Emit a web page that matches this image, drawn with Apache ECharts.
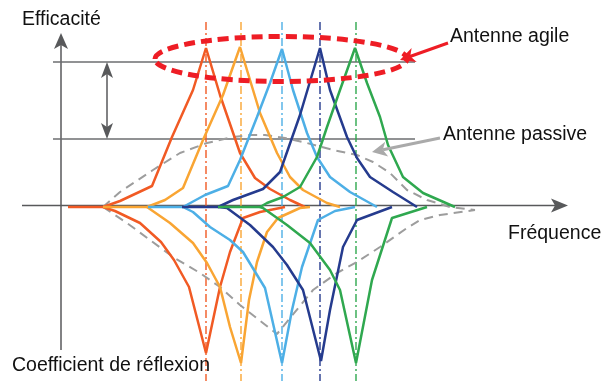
<!DOCTYPE html>
<html>
<head>
<meta charset="utf-8">
<title>Antenne agile / passive</title>
<script src="https://cdn.jsdelivr.net/npm/echarts@6/dist/echarts.min.js"></script>
<style>
    html, body { margin: 0; padding: 0; background: #fff; }
    #antenna_chart { width: 601px; height: 381px; }
</style>
</head>
<body>
<div id="antenna_chart"></div>
<script>

// Data: [frequency, level], level 0 = frequency axis
// ------------------------------

var redEff = [[68,0],[103,0],[120,6],[152,21],[172,70],[193,117],[206,159],[220,112],[240,54],[255,29],[270,18],[290,7],[305,0]];
var redRefl = [[103,0],[115,-4],[140,-16],[161,-35],[174,-53],[189,-80],[206,-146],[220,-80],[230,-45],[243,-11],[260,-5],[285,0]];

var orangeEff = [[103,0],[147,0],[165,7],[183,19],[203,67],[223,112],[240,160],[260,94],[277,54],[290,30],[303,17],[327,4],[340,0]];
var orangeRefl = [[147,0],[170,-16],[193,-36],[207,-56],[220,-80],[230,-120],[241,-156],[249,-93],[257,-55],[267,-25],[278,-11],[300,-1],[310,0]];

var blueEff = [[148,0],[183,0],[205,12],[228,21],[240,47],[257,90],[270,124],[282,158],[293,117],[307,74],[317,50],[330,30],[350,15],[377,0]];
var blueRefl = [[183,0],[193,-5],[210,-20],[230,-33],[243,-45],[265,-81],[282,-156],[292,-103],[302,-60],[318,-13],[335,-4],[355,0]];

var navyEff = [[182,0],[218,0],[233,7],[263,18],[280,35],[300,92],[320,159],[330,117],[347,70],[357,49],[370,30],[393,15],[417,0]];
var navyRefl = [[218,0],[227,-1],[250,-18],[273,-40],[287,-58],[303,-83],[321,-154],[330,-103],[343,-40],[357,-13],[392,0]];

var greenEff = [[218,0],[260,0],[267,4],[283,10],[300,20],[317,50],[327,80],[340,117],[355,159],[367,124],[380,90],[388,62],[403,30],[423,14],[455,0]];
var greenRefl = [[260,0],[263,-1],[287,-18],[310,-36],[330,-63],[340,-83],[356,-156],[372,-73],[392,-11],[427,0]];

var passiveEff = [[103,0],[120,15],[153,37],[180,54],[207,64],[233,70],[250,72],[265,72],[285,69],[307,64],[333,57],[357,52],[373,45],[390,34],[407,17],[427,7],[450,0],[475,-3]];
var passiveRefl = [[103,0],[127,-16],[150,-33],[173,-50],[200,-66],[220,-80],[240,-98],[277,-127],[313,-83],[337,-66],[357,-55],[380,-40],[407,-21],[420,-13],[440,-8],[475,-3]];

// Resonance frequency of each agile state
var resonances = [206, 241, 282, 320, 356];
var agileColors = ['#F15A24', '#F9A533', '#4DAFE6', '#253B8E', '#2FA84F'];
var agileEff = [redEff, orangeEff, blueEff, navyEff, greenEff];
var agileRefl = [redRefl, orangeRefl, blueRefl, navyRefl, greenRefl];


// Setup module
// ------------------------------

var EchartsAntennaAgile = function() {

    var _antennaChart = function() {
        if (typeof echarts == 'undefined') {
            console.warn('Warning - echarts.min.js is not loaded.');
            return;
        }

        var antenna_element = document.getElementById('antenna_chart');
        if (!antenna_element) return;

        var antenna_chart = echarts.init(antenna_element, null, { renderer: 'canvas' });

        var axisColor = '#58595B';
        var font = '19.5px "Liberation Sans", Arial, sans-serif';

        //
        // Series
        //

        var series = [];

        // Dash-dot marker at every resonance
        resonances.forEach(function(f, i) {
            series.push({
                type: 'line',
                silent: true,
                symbol: 'none',
                z: 1,
                lineStyle: { color: agileColors[i], width: 1.4, type: [8, 3, 2, 3] },
                data: [[f, 185], [f, -174]]
            });
        });

        // Passive antenna (dashed)
        [passiveEff, passiveRefl].forEach(function(d) {
            series.push({
                type: 'line',
                symbol: 'none',
                z: 2,
                lineStyle: { color: '#9D9D9D', width: 2, type: [9, 6] },
                data: d
            });
        });

        // Agile antenna states
        agileColors.forEach(function(c, i) {
            series.push({
                type: 'line',
                symbol: 'none',
                z: 3,
                lineStyle: { color: c, width: 2.5 },
                data: agileEff[i]
            });
            series.push({
                type: 'line',
                symbol: 'none',
                z: 3,
                lineStyle: { color: c, width: 2.5 },
                data: agileRefl[i]
            });
        });

        //
        // Decorations: axes, arrows, labels
        //

        var lineEl = function(x1, y1, x2, y2, color, w, z) {
            return { type: 'line', z: z || 1, shape: { x1: x1, y1: y1, x2: x2, y2: y2 }, style: { stroke: color, lineWidth: w } };
        };
        var headEl = function(points, color, z) {
            return { type: 'polygon', z: z || 1, shape: { points: points }, style: { fill: color } };
        };
        var textEl = function(txt, x, y) {
            return { type: 'text', z: 20, style: { text: txt, x: x, y: y, font: font, fill: '#111', verticalAlign: 'middle' } };
        };

        var graphic = [
            // Vertical axis
            lineEl(61, 350, 61, 42, axisColor, 1.5),
            headEl([[61, 33], [68, 49], [61, 45], [54, 49]], axisColor),

            // Frequency axis
            lineEl(22, 205.5, 558, 205.5, axisColor, 1.5),
            headEl([[568, 205.5], [551, 198.5], [555, 205.5], [551, 212.5]], axisColor),

            // Reference levels
            lineEl(53, 62, 415, 62, '#6D6E70', 1.3),
            lineEl(53, 139, 415, 139, '#6D6E70', 1.3),

            // Gain double arrow
            lineEl(107, 70, 107, 131, axisColor, 1.5),
            headEl([[107, 62], [113, 78], [107, 74], [101, 78]], axisColor),
            headEl([[107, 139], [113, 123], [107, 127], [101, 123]], axisColor),

            // Agile antenna ellipse
            {
                type: 'ellipse',
                z: 10,
                shape: { cx: 281, cy: 59, rx: 126, ry: 22.5 },
                style: { fill: 'none', stroke: '#EE1D25', lineWidth: 5, lineDash: [11, 6] }
            },

            // Pointer arrows
            lineEl(448, 43, 410, 56.5, '#EE1D25', 3, 10),
            headEl([[400, 60], [416.7, 62], [410.3, 56.3], [411.6, 47.9]], '#EE1D25', 10),
            lineEl(440, 138, 383, 149.8, '#AAAAAA', 3, 10),
            headEl([[372, 152], [388.2, 156.4], [382.8, 149.8], [385.2, 141.7]], '#AAAAAA', 10),

            // Labels
            textEl('Efficacité', 22, 20),
            textEl('Antenne agile', 450, 37),
            textEl('Antenne passive', 443, 135),
            textEl('Fréquence', 508, 234),
            textEl('Coefficient de réflexion', 12, 366)
        ];

        antenna_chart.setOption({
            animation: false,
            grid: { left: 0, right: 0, top: 0, bottom: 0, containLabel: false },
            xAxis: { type: 'value', min: 0, max: 601, show: false },
            yAxis: { type: 'value', min: -174, max: 207, show: false },
            series: series,
            graphic: graphic
        });

        window.addEventListener('resize', function() {
            antenna_chart.resize();
        });
    };

    return {
        init: function() {
            _antennaChart();
        }
    }
}();


// Initialize module
// ------------------------------

document.addEventListener('DOMContentLoaded', function() {
    EchartsAntennaAgile.init();
});
</script>
</body>
</html>
